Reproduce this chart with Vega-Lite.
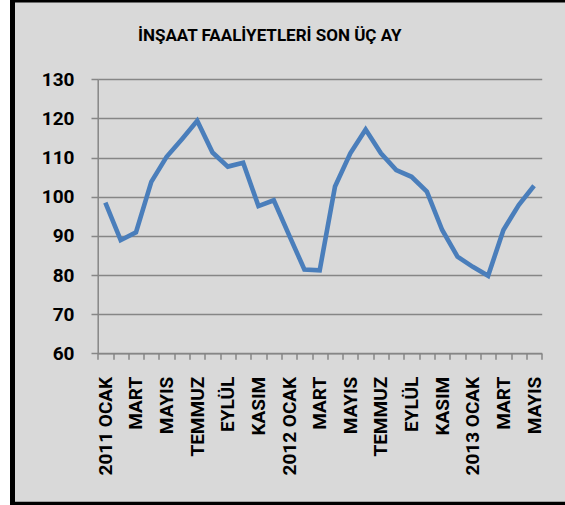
{
  "$schema": "https://vega.github.io/schema/vega-lite/v6.json",
  "width": 552.5,
  "height": 504.2,
  "autosize": {"type": "none"},
  "padding": {"left": 12.5, "top": 0, "right": 0, "bottom": 0.8},
  "background": "#FFFFFF",
  "title": {
    "text": "İNŞAAT FAALİYETLERİ SON ÜÇ AY",
    "font": "Roboto",
    "fontSize": 17,
    "fontWeight": "bold",
    "color": "#000000",
    "anchor": "middle",
    "frame": "group",
    "baseline": "alphabetic",
    "dx": -19,
    "offset": -58
  },
  "data": {
    "values": [
      {"ay": "2011 OCAK", "deger": 98.5},
      {"ay": "2011 ŞUBAT", "deger": 88.9},
      {"ay": "2011 MART", "deger": 90.9},
      {"ay": "2011 NİSAN", "deger": 103.8},
      {"ay": "2011 MAYIS", "deger": 110.2},
      {"ay": "2011 HAZİRAN", "deger": 114.7},
      {"ay": "2011 TEMMUZ", "deger": 119.4},
      {"ay": "2011 AĞUSTOS", "deger": 111.3},
      {"ay": "2011 EYLÜL", "deger": 107.7},
      {"ay": "2011 EKİM", "deger": 108.7},
      {"ay": "2011 KASIM", "deger": 97.6},
      {"ay": "2011 ARALIK", "deger": 99.1},
      {"ay": "2012 OCAK", "deger": 90.2},
      {"ay": "2012 ŞUBAT", "deger": 81.4},
      {"ay": "2012 MART", "deger": 81.2},
      {"ay": "2012 NİSAN", "deger": 102.6},
      {"ay": "2012 MAYIS", "deger": 111.1},
      {"ay": "2012 HAZİRAN", "deger": 117.2},
      {"ay": "2012 TEMMUZ", "deger": 111.1},
      {"ay": "2012 AĞUSTOS", "deger": 106.8},
      {"ay": "2012 EYLÜL", "deger": 105.1},
      {"ay": "2012 EKİM", "deger": 101.3},
      {"ay": "2012 KASIM", "deger": 91.5},
      {"ay": "2012 ARALIK", "deger": 84.7},
      {"ay": "2013 OCAK", "deger": 82.1},
      {"ay": "2013 ŞUBAT", "deger": 79.8},
      {"ay": "2013 MART", "deger": 91.5},
      {"ay": "2013 NİSAN", "deger": 97.9},
      {"ay": "2013 MAYIS", "deger": 102.8}
    ]
  },
  "mark": {"type": "line", "color": "#4A7EBB", "strokeWidth": 4.6, "strokeJoin": "miter", "strokeCap": "butt"},
  "encoding": {
    "x": {
      "field": "ay",
      "type": "ordinal",
      "sort": null,
      "scale": {"type": "band", "paddingInner": 0, "paddingOuter": 0, "range": [85.2, 529.2]},
      "axis": {
        "title": null,
        "offset": -150.9,
        "labelAngle": -90,
        "labelAlign": "right",
        "labelBaseline": "middle",
        "labelFont": "Roboto",
        "labelFontSize": 19,
        "labelFontWeight": "bold",
        "labelColor": "#000000",
        "labelPadding": 17,
        "labelOverlap": false,
        "labelExpr": "indexof(['OCAK','MART','MAYIS','TEMMUZ','EYLÜL','KASIM'], split(datum.value,' ')[1]) < 0 ? '' : (split(datum.value,' ')[1] == 'OCAK' ? datum.value : split(datum.value,' ')[1])",
        "tickBand": "extent",
        "tickSize": 6,
        "tickColor": "#868686",
        "tickWidth": 1.5,
        "domainColor": "#868686",
        "domainWidth": 1.5,
        "grid": false
      }
    },
    "y": {
      "field": "deger",
      "type": "quantitative",
      "scale": {"domain": [60, 130], "nice": false, "zero": false, "range": [353.3, 79.3]},
      "axis": {
        "title": null,
        "offset": -85.2,
        "values": [60, 70, 80, 90, 100, 110, 120, 130],
        "labelFont": "Roboto",
        "labelFontSize": 19,
        "labelFontWeight": "bold",
        "labelColor": "#000000",
        "labelPadding": 17,
        "tickSize": 6.7,
        "tickColor": "#868686",
        "tickWidth": 1.5,
        "domainColor": "#868686",
        "domainWidth": 1.5,
        "grid": true,
        "gridColor": "#868686",
        "gridWidth": 1.4,
        "gridOpacity": 1
      }
    }
  },
  "config": {
    "view": {
      "fill": "#D9D9D9",
      "stroke": "#000000",
      "strokeWidth": 5,
      "strokeDash": [552.5, 504.2, 2000, 0]
    }
  }
}
